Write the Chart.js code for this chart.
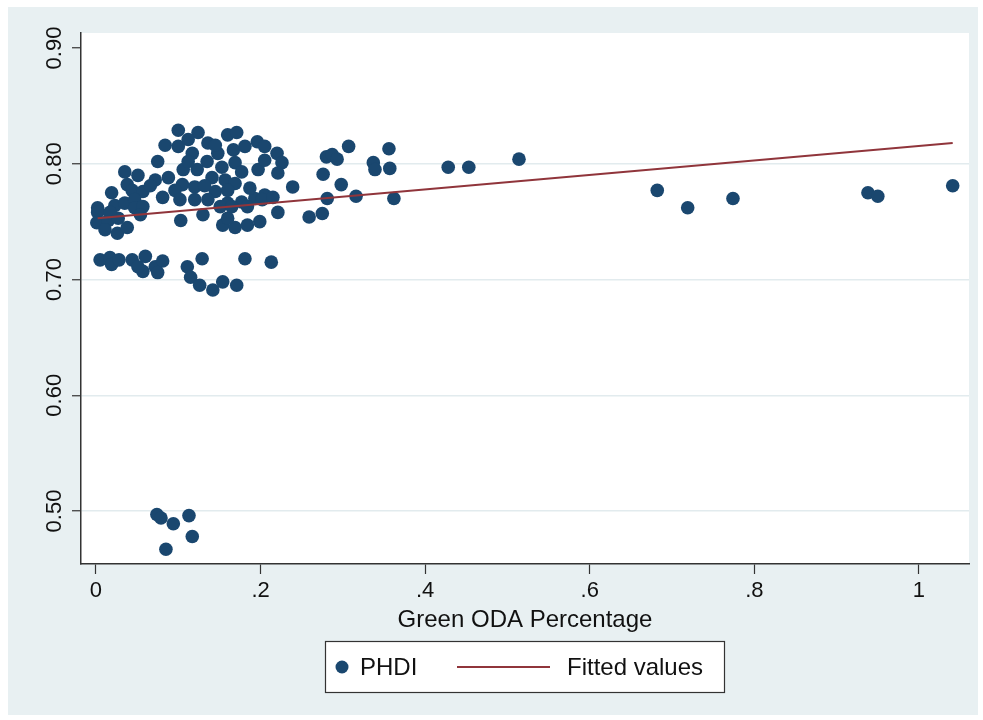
<!DOCTYPE html>
<html>
<head>
<meta charset="utf-8">
<title>PHDI vs Green ODA Percentage</title>
<script src="https://cdn.jsdelivr.net/npm/chart.js@4"></script>
<style>
  html, body { margin: 0; padding: 0; background: #ffffff; }
</style>
</head>
<body>
<canvas id="scatterChart" width="983" height="720"></canvas>
<script>
// Values (PHDI against green ODA share)
const phdiX = [
  0.100, 0.084, 0.100, 0.124, 0.112, 0.136, 0.160, 0.171, 0.196, 0.205,
  0.220, 0.226, 0.221, 0.239, 0.075, 0.117, 0.148, 0.167, 0.181, 0.135,
  0.153, 0.169, 0.177, 0.197, 0.035, 0.051, 0.072, 0.088, 0.106, 0.123,
  0.141, 0.157, 0.169, 0.105, 0.120, 0.145, 0.038, 0.019, 0.044, 0.057,
  0.081, 0.096, 0.102, 0.120, 0.136, 0.160, 0.177, 0.193, 0.205, 0.151,
  0.002, 0.023, 0.035, 0.047, 0.002, 0.001, 0.015, 0.027, 0.011, 0.026,
  0.038, 0.047, 0.057, 0.103, 0.130, 0.154, 0.169, 0.184, 0.199, 0.160,
  0.221, 0.165, 0.184, 0.202, 0.215,
  // hidden inside the dense part of the cluster
  0.066, 0.112, 0.132, 0.187, 0.160, 0.205, 0.145, 0.017, 0.054,
  // lower band around 0.70
  0.005, 0.017, 0.019, 0.028, 0.044, 0.060, 0.057, 0.072, 0.081, 0.075,
  0.051, 0.111, 0.115, 0.129, 0.126, 0.142, 0.154, 0.171, 0.181, 0.213,
  // right of the cluster
  0.307, 0.356, 0.337, 0.339, 0.357, 0.428, 0.453, 0.514, 0.362, 0.316,
  0.298, 0.281, 0.276, 0.280, 0.287, 0.293, 0.275, 0.259,
  // far right
  0.682, 0.719, 0.774, 0.938, 0.950, 1.041,
  // low outliers
  0.074, 0.079, 0.094, 0.113, 0.117, 0.085
];
const phdiY = [
  0.829, 0.816, 0.815, 0.827, 0.821, 0.818, 0.825, 0.827, 0.819, 0.815,
  0.809, 0.801, 0.792, 0.780, 0.802, 0.809, 0.809, 0.812, 0.815, 0.802,
  0.797, 0.801, 0.793, 0.795, 0.793, 0.790, 0.786, 0.788, 0.795, 0.795,
  0.788, 0.786, 0.783, 0.782, 0.780, 0.776, 0.782, 0.775, 0.777, 0.776,
  0.771, 0.777, 0.769, 0.769, 0.769, 0.766, 0.767, 0.770, 0.773, 0.763,
  0.762, 0.764, 0.766, 0.769, 0.758, 0.749, 0.751, 0.753, 0.743, 0.740,
  0.745, 0.762, 0.763, 0.751, 0.756, 0.747, 0.745, 0.747, 0.750, 0.753,
  0.758, 0.763, 0.763, 0.769, 0.771,
  0.781, 0.802, 0.781, 0.779, 0.777, 0.803, 0.816, 0.758, 0.756,
  0.717, 0.719, 0.713, 0.717, 0.717, 0.720, 0.707, 0.711, 0.716, 0.706,
  0.711, 0.711, 0.702, 0.718, 0.695, 0.691, 0.698, 0.695, 0.718, 0.715,
  0.815, 0.813, 0.801, 0.795, 0.796, 0.797, 0.797, 0.804, 0.770, 0.772,
  0.782, 0.770, 0.791, 0.806, 0.808, 0.804, 0.757, 0.754,
  0.777, 0.762, 0.770, 0.775, 0.772, 0.781,
  0.497, 0.494, 0.489, 0.496, 0.478, 0.467
];

// Fitted regression line, two end points
const fitX = [0.002, 1.041];
const fitY = [0.753, 0.818];

const xTicks = [0, 0.2, 0.4, 0.6, 0.8, 1];
const xTickLabels = ['0', '.2', '.4', '.6', '.8', '1'];
const yTicks = [0.5, 0.6, 0.7, 0.8, 0.9];
const yTickLabels = ['0.50', '0.60', '0.70', '0.80', '0.90'];

const seriesLabels = ['PHDI', 'Fitted values'];
const xTitle = 'Green ODA Percentage';

const navy = '#1a476f';
const maroon = '#90353b';
const fontFamily = '"Liberation Sans", Arial, Helvetica, sans-serif';

// Light frame behind everything, white plot region
const backgroundPlugin = {
    id: 'stataBackground',
    beforeDraw(chart) {
        const ctx = chart.ctx;
        const a = chart.chartArea;
        ctx.save();
        ctx.fillStyle = '#ffffff';
        ctx.fillRect(0, 0, chart.width, chart.height);
        ctx.fillStyle = '#e8f0f2';
        ctx.fillRect(8, 7, 970, 708);
        ctx.fillStyle = '#ffffff';
        ctx.fillRect(a.left, a.top, a.right - a.left, a.bottom - a.top);
        ctx.restore();
    }
};

// Boxed legend under the axis title
const boxLegendPlugin = {
    id: 'boxLegend',
    afterDraw(chart) {
        const ctx = chart.ctx;
        const cy = 667;
        ctx.save();
        ctx.fillStyle = '#ffffff';
        ctx.fillRect(325, 641, 399, 51);
        ctx.strokeStyle = '#333333';
        ctx.lineWidth = 1.2;
        ctx.strokeRect(325.5, 641.5, 399, 51);

        ctx.fillStyle = navy;
        ctx.beginPath();
        ctx.arc(342, cy, 6.5, 0, Math.PI * 2);
        ctx.fill();

        ctx.strokeStyle = maroon;
        ctx.lineWidth = 2;
        ctx.beginPath();
        ctx.moveTo(457, cy);
        ctx.lineTo(550, cy);
        ctx.stroke();

        ctx.fillStyle = '#111111';
        ctx.font = '24px ' + fontFamily;
        ctx.textBaseline = 'middle';
        ctx.textAlign = 'left';
        ctx.fillText(seriesLabels[0], 360, cy + 1);
        ctx.fillText(seriesLabels[1], 567, cy + 1);
        ctx.restore();
    }
};

document.addEventListener('DOMContentLoaded', function() {
    const points = phdiX.map((x, i) => ({ x: x, y: phdiY[i] }));
    const fitted = fitX.map((x, i) => ({ x: x, y: fitY[i] }));

    const ctx = document.getElementById('scatterChart').getContext('2d');
    const chart = new Chart(ctx, {
        type: 'scatter',
        data: {
            datasets: [{
                label: seriesLabels[0],
                data: points,
                backgroundColor: navy,
                borderWidth: 0,
                pointRadius: 6.8,
                order: 1
            }, {
                label: seriesLabels[1],
                data: fitted,
                showLine: true,
                borderColor: maroon,
                borderWidth: 2,
                pointRadius: 0,
                order: 0
            }]
        },
        options: {
            responsive: false,
            animation: false,
            layout: {
                padding: { left: 0, right: 14, top: 33, bottom: 0 }
            },
            plugins: {
                legend: { display: false },
                tooltip: { enabled: false }
            },
            scales: {
                x: {
                    type: 'linear',
                    min: -0.0182,
                    max: 1.0608,
                    afterBuildTicks: scale => {
                        scale.ticks = xTicks.map(v => ({ value: v }));
                    },
                    afterFit: scale => { scale.height = 156; },
                    ticks: {
                        callback: value => xTickLabels[xTicks.indexOf(value)],
                        color: '#111111',
                        font: { family: fontFamily, size: 22 },
                        padding: 4,
                        maxRotation: 0
                    },
                    grid: {
                        drawOnChartArea: false,
                        tickLength: 10,
                        tickColor: '#333333',
                        tickWidth: 1.2
                    },
                    border: { color: '#333333', width: 1.5 },
                    title: {
                        display: true,
                        text: xTitle,
                        color: '#111111',
                        font: { family: fontFamily, size: 24 },
                        padding: { top: 0, bottom: 85 }
                    }
                },
                y: {
                    type: 'linear',
                    min: 0.4542,
                    max: 0.913,
                    afterBuildTicks: scale => {
                        scale.ticks = yTicks.map(v => ({ value: v }));
                    },
                    afterFit: scale => { scale.width = 81; },
                    ticks: {
                        callback: value => yTickLabels[yTicks.indexOf(value)],
                        color: '#111111',
                        font: { family: fontFamily, size: 22 },
                        minRotation: 90,
                        maxRotation: 90,
                        crossAlign: 'center',
                        padding: -4
                    },
                    grid: {
                        color: c => (c.tick && c.tick.value === 0.9) ? 'rgba(0,0,0,0)' : '#e2ebee',
                        lineWidth: 1.5,
                        tickLength: 9,
                        tickColor: '#333333',
                        tickWidth: 1.2
                    },
                    border: { color: '#333333', width: 1.5 }
                }
            }
        },
        plugins: [backgroundPlugin, boxLegendPlugin]
    });
});
</script>
</body>
</html>
